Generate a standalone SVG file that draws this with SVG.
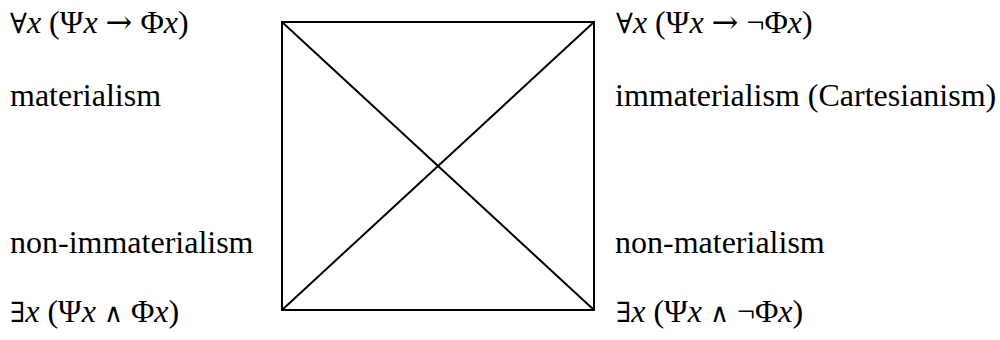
<svg xmlns="http://www.w3.org/2000/svg" width="1000" height="340" viewBox="0 0 1000 340">
<rect width="1000" height="340" fill="#fff"/>
<g id="connectors" stroke="#000" stroke-width="2" fill="none" stroke-linecap="round" stroke-linejoin="round">
<rect x="282" y="22" width="312" height="288"/>
<line x1="282" y1="22" x2="594" y2="310"/>
<line x1="594" y1="22" x2="282" y2="310"/>
</g>
<g id="top-left">
<text x="10" y="33" font-family="Liberation Serif" font-size="32"><tspan font-family="DejaVu Serif" font-size="28">∀</tspan><tspan font-style="italic">x</tspan> (Ψ<tspan font-style="italic">x</tspan> <tspan font-family="DejaVu Serif" font-size="32">→</tspan> Φ<tspan font-style="italic">x</tspan>)</text>
<text x="10" y="106" font-family="Liberation Serif" font-size="32">materialism</text>
</g>
<g id="top-right">
<text x="616" y="33" font-family="Liberation Serif" font-size="32"><tspan font-family="DejaVu Serif" font-size="28">∀</tspan><tspan font-style="italic">x</tspan> (Ψ<tspan font-style="italic">x</tspan> <tspan font-family="DejaVu Serif" font-size="32">→</tspan> ¬Φ<tspan font-style="italic">x</tspan>)</text>
<text x="615" y="106" font-family="Liberation Serif" font-size="32">immaterialism (Cartesianism)</text>
</g>
<g id="bottom-left">
<text x="10" y="253" font-family="Liberation Serif" font-size="32">non-immaterialism</text>
<text x="10" y="322" font-family="Liberation Serif" font-size="32"><tspan font-family="DejaVu Serif" font-size="28">∃</tspan><tspan font-style="italic">x</tspan> (Ψ<tspan font-style="italic">x</tspan> <tspan font-family="DejaVu Serif" font-size="26">∧</tspan> Φ<tspan font-style="italic">x</tspan>)</text>
</g>
<g id="bottom-right">
<text x="615" y="253" font-family="Liberation Serif" font-size="32">non-materialism</text>
<text x="616" y="322" font-family="Liberation Serif" font-size="32"><tspan font-family="DejaVu Serif" font-size="28">∃</tspan><tspan font-style="italic">x</tspan> (Ψ<tspan font-style="italic">x</tspan> <tspan font-family="DejaVu Serif" font-size="26">∧</tspan> ¬Φ<tspan font-style="italic">x</tspan>)</text>
</g>
</svg>
